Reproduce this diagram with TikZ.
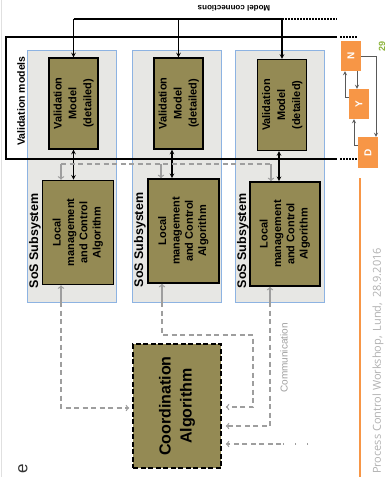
\documentclass[tikz,border=0pt]{standalone}
\usepackage{fontspec}
\setmainfont{Liberation Sans}
\newfontfamily\footfont{Open Sans}
\usepackage{graphicx}

\definecolor{olive}{HTML}{948A54}
\definecolor{panelgray}{HTML}{E7E7E4}
\definecolor{panelblue}{HTML}{8DB3E2}
\definecolor{slideorange}{HTML}{F79646}
\definecolor{commgray}{HTML}{9E9E9E}
\definecolor{footgray}{HTML}{B0B0B0}
\definecolor{pagegreen}{HTML}{8CB33A}

\newcommand{\vlines}[1]{\rotatebox{90}{\begin{tabular}{@{}c@{}}#1\end{tabular}}}

\tikzset{
	panel/.style={draw=panelblue, fill=panelgray, line width=0.6pt, minimum width=89pt, minimum height=252pt, inner sep=0pt},
	valbox/.style={draw, fill=olive, line width=1.1pt, minimum width=49pt, minimum height=91pt, inner sep=0pt, font=\fontsize{11}{15}\selectfont\bfseries},
	locbox/.style={draw, fill=olive, line width=1.6pt, minimum width=71pt, minimum height=104pt, inner sep=0pt, font=\fontsize{11}{13.3}\selectfont\bfseries},
	coordbox/.style={draw, fill=olive, dash pattern=on 5pt off 2.5pt, line width=1.6pt, minimum width=88pt, minimum height=124pt, inner sep=0pt, font=\fontsize{16}{21}\selectfont\bfseries},
	nydbox/.style={fill=slideorange, text=white, minimum width=20pt, minimum height=30pt, inner sep=0pt, font=\fontsize{10}{12}\selectfont\bfseries},
	sublabel/.style={inner sep=0pt, font=\fontsize{12.5}{14}\selectfont\bfseries},
	link/.style={line width=1.1pt, -stealth},
	comm/.style={commgray, line width=1.3pt, dash pattern=on 5pt off 3.5pt},
	commtip/.style={commgray, line width=1.3pt, ->},
	nydlink/.style={black!65, line width=0.8pt, -stealth},
}

\begin{document}
\begin{tikzpicture}[x=1pt, y=-1pt]
	\useasboundingbox (0,0) rectangle (386,477);
	\draw [black!12, line width=1pt](1,0) -- (1,477);

	% subsystems
	\node[panel] at (71.5,176) (sub1) {};
	\node[panel] at (176.5,176) (sub2) {};
	\node[panel] at (280,176) (sub3) {};
	\node[sublabel] at (35,241) (sublab1) {\rotatebox{90}{SoS Subsystem}};
	\node[sublabel] at (140,240) (sublab2) {\rotatebox{90}{SoS Subsystem}};
	\node[sublabel] at (243,241) (sublab3) {\rotatebox{90}{SoS Subsystem}};

	% validation models frame
	\draw [line width=1.5pt](337,37) -- (6,37) -- (6,159) -- (337,159);
	\draw [line width=1.5pt, dash pattern=on 1.5pt off 1.5pt](340,37) -- (358,37);
	\draw [line width=1.5pt, dash pattern=on 1.5pt off 1.5pt](340,159) -- (358,159);
	\node[font=\fontsize{10.5}{12}\selectfont\bfseries] at (21,101) (vmlab) {\rotatebox{90}{Validation models}};

	\node[valbox] at (73.5,103.5) (val1) {\vlines{Validation\\Model\\(detailed)}};
	\node[valbox] at (178.5,103.5) (val2) {\vlines{Validation\\Model\\(detailed)}};
	\node[valbox] at (282,105) (val3) {\vlines{Validation\\Model\\(detailed)}};

	\node[locbox] at (78,232.5) (loc1) {\vlines{Local\\management\\and Control\\Algorithm}};
	\node[locbox] at (183.5,231) (loc2) {\vlines{Local\\management\\and Control\\Algorithm}};
	\node[locbox, minimum width=70pt] at (285,234) (loc3) {\vlines{Local\\management\\and Control\\Algorithm}};

	% model connections
	\node[font=\fontsize{8}{10}\selectfont\bfseries] at (234,8) (mclab) {\rotatebox{180}{Model connections}};
	\coordinate (mc1) at (73.5,19);
	\coordinate (mc2) at (178.5,19);
	\coordinate (mc3) at (282,19);
	\coordinate (mcend) at (337,19);
	\draw [line width=1.1pt](mc1) -- (mc3);
	\draw [line width=1.1pt, dash pattern=on 1.5pt off 1.5pt](mc3) -- (mcend);
	\foreach \i in {1,2,3}
		\draw [link](mc\i) -- (val\i.north);

	\draw [link, stealth-stealth](val1.south) -- (val1.south |- loc1.north);
	\draw [link, stealth-stealth]([xshift=-6.5pt]val2.south) -- ([xshift=-6.5pt]val2.south |- loc2.north);
	\draw [link, stealth-stealth]([xshift=-3pt]val3.south) -- ([xshift=-3pt]val3.south |- loc3.north);

	% communication
	\coordinate (cm1) at (61,164);
	\coordinate (cm2) at (161,164);
	\coordinate (cm3) at (271,164);
	\draw [comm](cm1) -- (cm3);
	\foreach \i in {1,2,3}
		\draw [commtip](cm\i) -- (cm\i |- loc\i.north);

	\node[coordbox] at (177,406) (coord) {\vlines{Coordination\\Algorithm}};

	\coordinate (up1) at (61,302);
	\coordinate (up2) at (162,302);
	\coordinate (up3) at (270,302);
	\foreach \i in {1,2,3}
		\draw [commtip](up\i) -- (up\i |- loc\i.south);

	\coordinate (b1) at (61,408);
	\draw [comm, ->, shorten >=3pt](up1) -- (b1) -- (b1 -| coord.west);
	\coordinate (b2a) at (162,335);
	\coordinate (b2b) at (253,335);
	\coordinate (b2c) at (253,407);
	\draw [comm, ->, shorten >=4pt](up2) -- (b2a) -- (b2b) -- (b2c) -- (b2c -| coord.east);
	\coordinate (b3) at (270,426);
	\draw [comm, ->, shorten >=4pt](up3) -- (b3) -- (b3 -| coord.east);
	\coordinate (ext) at (308,444);
	\coordinate (extd) at (281,444);
	\draw [commgray, line width=1.3pt, dash pattern=on 1pt off 11pt](ext) -- (extd);
	\draw [comm, ->, shorten >=4pt](extd) -- (extd -| coord.east);
	\node[text=commgray, font=\fontsize{10}{12}\selectfont] at (284,358) (commlab) {\rotatebox{90}{Communication}};

	% N / Y / D
	\node[nydbox] at (351,56) (nN) {\rotatebox{90}{N}};
	\node[nydbox] at (359,104) (nY) {\rotatebox{90}{Y}};
	\node[nydbox, minimum height=31pt] at (368,152.5) (nD) {\rotatebox{90}{D}};
	\draw [nydlink](nN.east) -| ([xshift=8pt]nD.north);
	\draw [nydlink]([xshift=6pt]nN.south) -- ([xshift=6pt]nN.south |- nY.north);
	\draw [nydlink]([yshift=7pt]nY.west) -| ([xshift=-6pt]nN.south);
	\draw [nydlink]([yshift=7.5pt]nD.west) -| ([xshift=-5pt]nY.south);

	% slide footer
	\draw [slideorange, line width=2pt](360,178) -- (360,477);
	\node[text=footgray, font={\footfont\fontsize{11}{13}\selectfont}] at (378,361) (foot) {\rotatebox{90}{Process Control Workshop,\, Lund,\, 28.9.2016}};
	\node[text=pagegreen, font=\fontsize{9}{10}\selectfont\bfseries] at (382,46) (pagenum) {\rotatebox{90}{29}};
	\node[text=black!80, font=\fontsize{17}{20}\selectfont] at (23,469) (titlee) {\rotatebox{90}{e}};

\end{tikzpicture}
\end{document}
